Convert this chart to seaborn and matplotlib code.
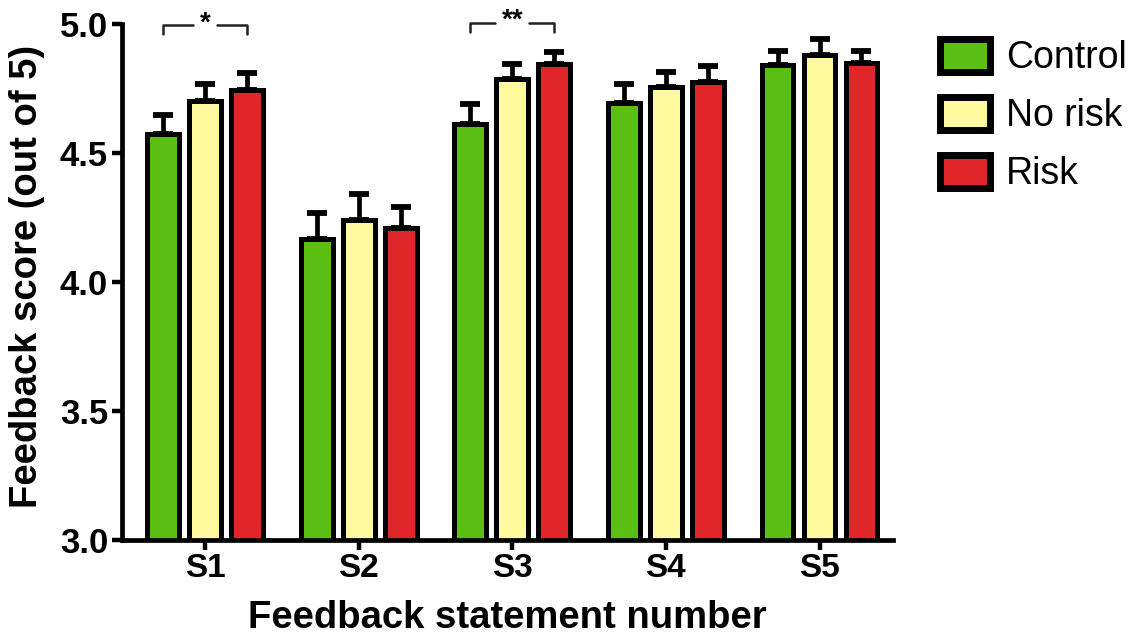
import pandas as pd
import seaborn as sns
import matplotlib.pyplot as plt
import numpy as np

# values
statements = ['S1', 'S2', 'S3', 'S4', 'S5']
groups = ['Control', 'No risk', 'Risk']
control = [4.575, 4.167, 4.61, 4.695, 4.84]
no_risk = [4.70, 4.24, 4.785, 4.757, 4.88]
risk = [4.745, 4.21, 4.845, 4.775, 4.85]
control_err = [0.07, 0.10, 0.08, 0.07, 0.055]
no_risk_err = [0.065, 0.10, 0.06, 0.055, 0.06]
risk_err = [0.065, 0.08, 0.045, 0.06, 0.045]
colors = ['#5bbf13', '#fffa9e', '#e02629']

df = pd.DataFrame({
    'statement': statements * 3,
    'group': [g for g in groups for _ in statements],
    'score': control + no_risk + risk,
    'err': control_err + no_risk_err + risk_err,
})

sns.set_style('ticks')
plt.rcParams['font.family'] = ['Liberation Sans', 'DejaVu Sans']
for k in ['text.color', 'axes.labelcolor', 'xtick.color', 'ytick.color', 'axes.edgecolor']:
    plt.rcParams[k] = 'black'

fig = plt.figure(figsize=(11.35, 6.43), dpi=100)
ax = fig.add_axes([0.1075, 0.16, 0.6795, 0.803])

sns.barplot(data=df, x='statement', y='score', hue='group', palette=colors,
            saturation=1, edgecolor='black', linewidth=3.6, width=0.82, gap=0.24,
            errorbar=None, ax=ax)

# one-sided error bars on top of each bar
for cont, g in zip(ax.containers, groups):
    errs = df.loc[df['group'] == g, 'err'].values
    xs = [b.get_x() + b.get_width() / 2 for b in cont]
    ys = [b.get_height() for b in cont]
    ax.errorbar(xs, ys, yerr=[np.zeros(len(errs)), errs], fmt='none',
                ecolor='black', elinewidth=3.4, capsize=7.5, capthick=4.2,
                zorder=0.5)

ax.set_ylim(3.0, 5.0)
ax.set_xlim(-0.54, 4.48)
ax.set_yticks([3.0, 3.5, 4.0, 4.5, 5.0])
ax.set_yticklabels(['3.0', '3.5', '4.0', '4.5', '5.0'])
sns.despine(ax=ax)
for s in ['left', 'bottom']:
    ax.spines[s].set_linewidth(3.4)
ax.tick_params(axis='both', width=3.2, length=7)
ax.tick_params(axis='y', labelsize=25, pad=3)
ax.tick_params(axis='x', labelsize=24, pad=2)
for lab in ax.get_yticklabels() + ax.get_xticklabels():
    lab.set_fontweight('bold')
ax.set_xlabel('Feedback statement number', fontsize=27.5, fontweight='bold', labelpad=12)
ax.set_ylabel('Feedback score (out of 5)', fontsize=27.5, fontweight='bold')
ax.yaxis.set_label_coords(-0.1, 0.51)

# significance brackets
def bracket(xa, xb, y, text):
    mid = (xa + xb) / 2
    half = 0.08 if len(text) == 1 else 0.11
    kw = dict(color='#222222', lw=1.8, clip_on=False)
    ax.plot([xa, xa, mid - half], [y - 0.035, y, y], **kw)
    ax.plot([mid + half, xb, xb], [y, y, y - 0.035], **kw)
    ax.text(mid, y - 0.045, text, ha='center', va='bottom', fontsize=20,
            fontweight='bold', clip_on=False)

b = ax.containers
bracket(b[0][0].get_x() + b[0][0].get_width() / 2,
        b[2][0].get_x() + b[2][0].get_width() / 2, 4.995, '*')
bracket(b[0][2].get_x() + b[0][2].get_width() / 2,
        b[2][2].get_x() + b[2][2].get_width() / 2, 5.005, '**')

handles, labels = ax.get_legend_handles_labels()
leg = ax.legend(handles, labels, loc='upper left', bbox_to_anchor=(0.828, 0.94),
                bbox_transform=fig.transFigure, frameon=False, fontsize=27,
                handlelength=1.35, handleheight=0.98, labelspacing=0.55,
                handletextpad=0.42, borderaxespad=0, borderpad=0)
for h in leg.legend_handles:
    h.set_linewidth(5)

fig.savefig('out.png', dpi=100)
